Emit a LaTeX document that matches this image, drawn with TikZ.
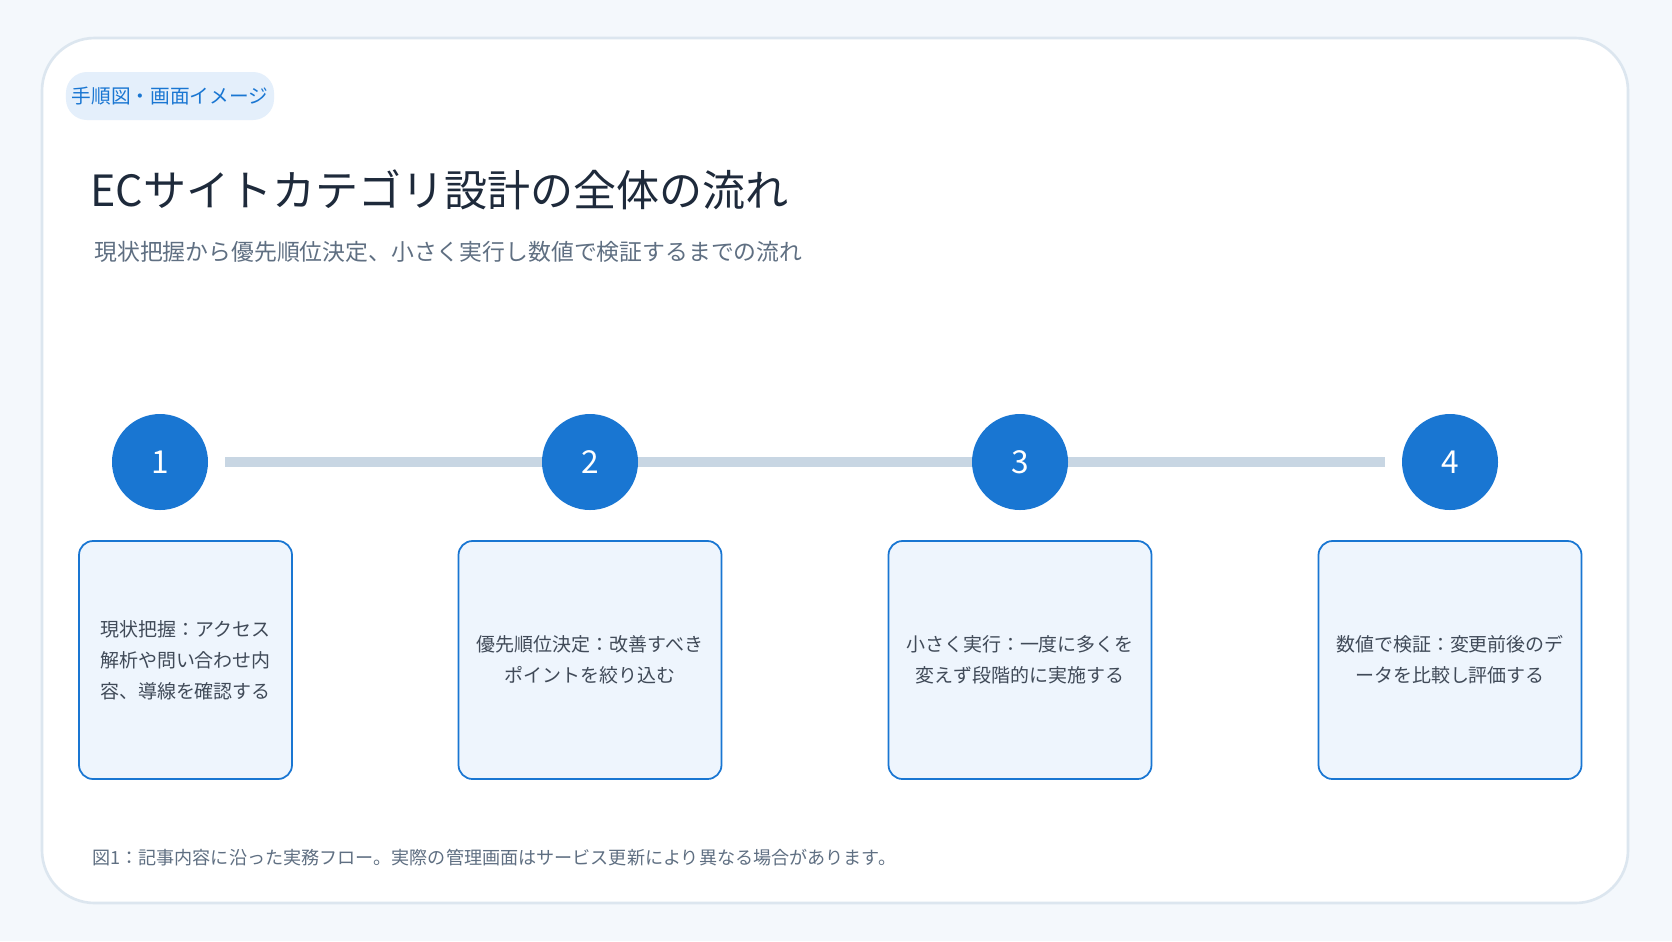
\documentclass[tikz,border=0pt]{standalone}
\usepackage{fontspec}
\setmainfont{Noto Sans CJK JP}
\usetikzlibrary{backgrounds}
\definecolor{pagebg}{HTML}{F4F8FC}
\definecolor{cardline}{HTML}{DCE6EF}
\definecolor{tagbg}{HTML}{E4EFFB}
\definecolor{mainblue}{HTML}{1976D2}
\definecolor{boxbg}{HTML}{EEF5FD}
\definecolor{titlec}{HTML}{1E2A3B}
\definecolor{subc}{HTML}{5F6F82}
\definecolor{railc}{HTML}{C8D6E3}
\begin{document}
\begin{tikzpicture}[x=0.02cm, y=-0.02cm,
  stepnum/.style={circle,fill=mainblue,text=white,minimum size=96*0.02cm,inner sep=0pt,font=\fontsize{18}{20}\selectfont},
  card/.style={draw=mainblue,fill=boxbg,rounded corners=8pt,line width=1pt,align=center,text=titlec!85,font=\fontsize{10.8}{17.6}\selectfont},
]
	\node[fill=tagbg,rounded corners=12pt,minimum width=190*0.02cm,minimum height=48*0.02cm,text=mainblue,font=\fontsize{11.2}{12}\selectfont] (tag) at (170,96) {手順図・画面イメージ};
	\node[anchor=west,text=titlec,font=\fontsize{24.5}{28}\selectfont,inner sep=0pt] (title) at (90,190) {ECサイトカテゴリ設計の全体の流れ};
	\node[anchor=west,text=subc,font=\fontsize{13}{15}\selectfont,inner sep=0pt] (sub) at (94,252) {現状把握から優先順位決定、小さく実行し数値で検証するまでの流れ};

	\node[stepnum] (n1) at (160,462) {1};
	\node[stepnum] (n2) at (590,462) {2};
	\node[stepnum] (n3) at (1020,462) {3};
	\node[stepnum] (n4) at (1450,462) {4};
	\begin{pgfonlayer}{background}
		\fill[pagebg] (0,0) rectangle (1672,941);
		\draw[cardline,fill=white,line width=1.5pt,rounded corners=30pt] (42,38) rectangle (1628,903);
		\draw[railc,line width=10*0.02cm,shorten <=0.34cm,shorten >=0.34cm] (n1.east) -- (n4.west);
	\end{pgfonlayer}

	\node[card,minimum width=213*0.02cm,minimum height=238*0.02cm] (b1) at (185.5,660) {現状把握：アクセス\\解析や問い合わせ内\\容、導線を確認する};
	\node[card,minimum width=263*0.02cm,minimum height=238*0.02cm] (b2) at (590,660) {優先順位決定：改善すべき\\ポイントを絞り込む};
	\node[card,minimum width=263*0.02cm,minimum height=238*0.02cm] (b3) at (1020,660) {小さく実行：一度に多くを\\変えず段階的に実施する};
	\node[card,minimum width=263*0.02cm,minimum height=238*0.02cm] (b4) at (1450,660) {数値で検証：変更前後のデ\\ータを比較し評価する};

	\node[anchor=west,text=subc,font=\fontsize{10.3}{12}\selectfont,inner sep=0pt] (cap) at (92,858) {図1：記事内容に沿った実務フロー。実際の管理画面はサービス更新により異なる場合があります。};
\end{tikzpicture}
\end{document}
